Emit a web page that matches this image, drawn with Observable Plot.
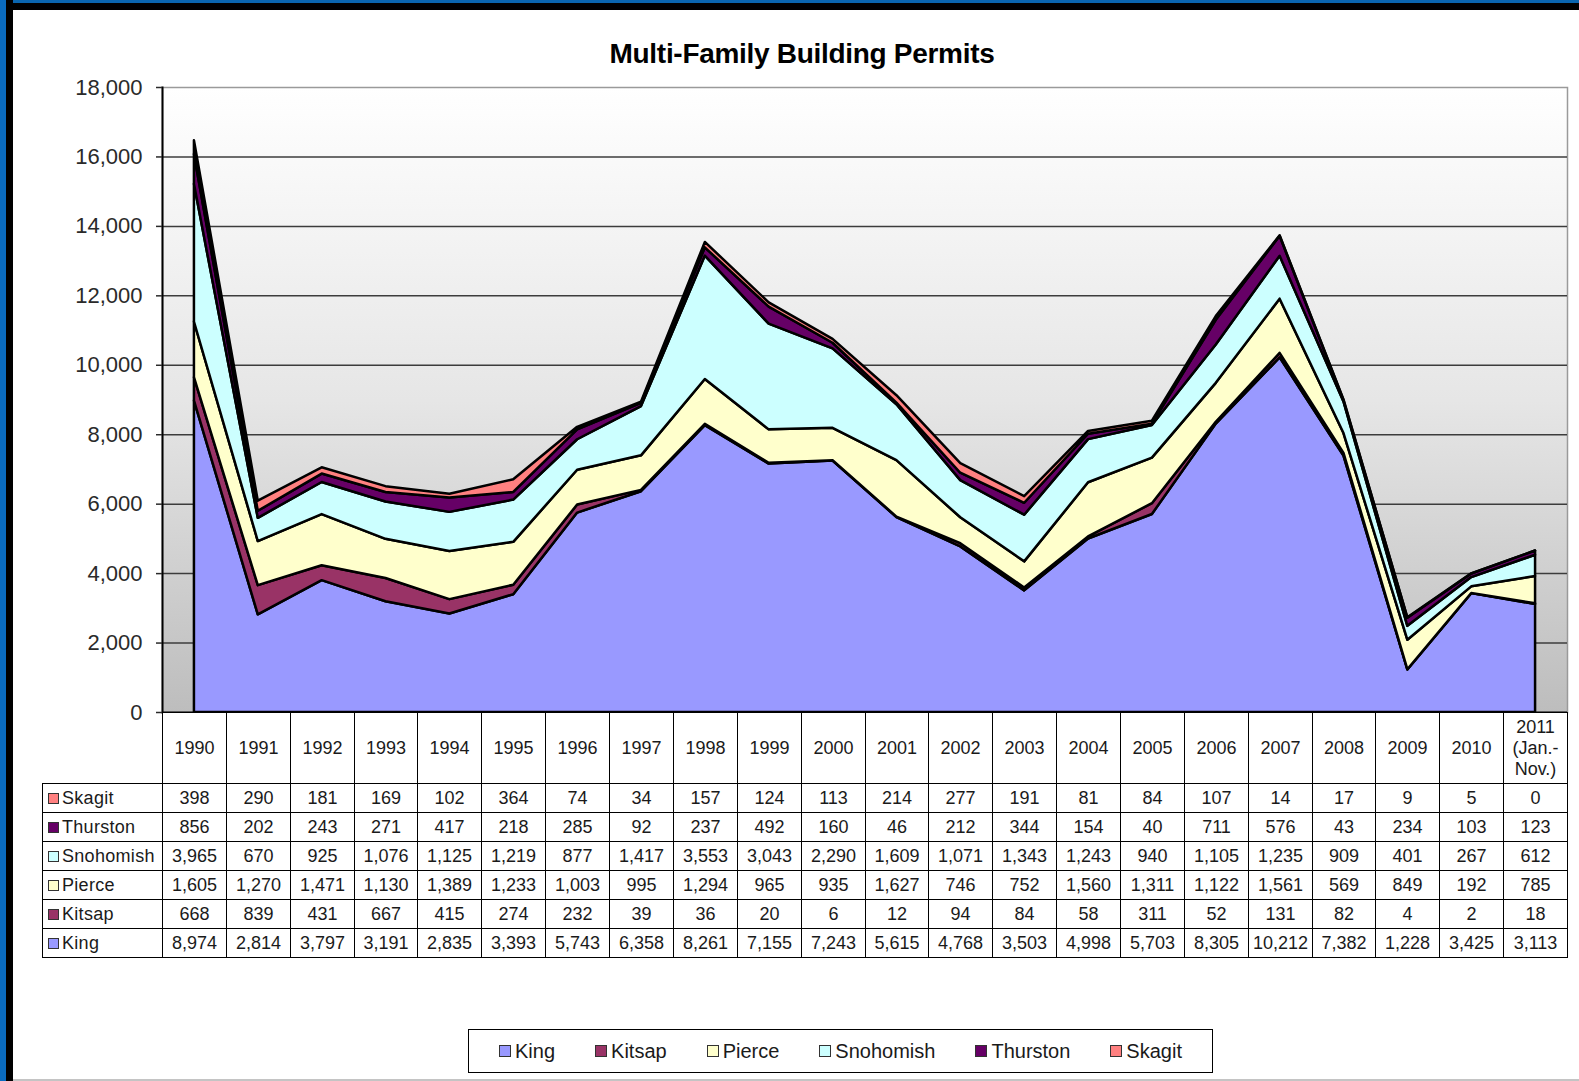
<!DOCTYPE html>
<html><head><meta charset="utf-8">
<script src="https://cdn.jsdelivr.net/npm/d3@7"></script>
<script src="https://cdn.jsdelivr.net/npm/@observablehq/plot@0.6"></script>
<style>
html,body{margin:0;padding:0;background:#fff;overflow:hidden;}
#page{position:relative;width:1579px;height:1081px;background:#fff;font-family:'Liberation Sans',Arial,sans-serif;color:#111;overflow:hidden;}
.fr{position:absolute;z-index:10;}
.cell{position:absolute;box-sizing:border-box;border:1px solid #000;display:flex;align-items:center;justify-content:center;font-size:18px;white-space:pre-line;text-align:center;line-height:21px;background:#fff;color:#1a1a1a;}
.lab{justify-content:flex-start;padding-left:5px;letter-spacing:0.3px;}
.sw{display:inline-block;width:9px;height:9px;border:1px solid #333;margin-right:3px;}
#title{position:absolute;top:40px;left:0;width:1604px;text-align:center;font-weight:bold;font-size:28px;line-height:28px;letter-spacing:-0.3px;color:#000;}
#legend{position:absolute;left:468px;top:1029px;width:745px;height:44px;box-sizing:border-box;border:1px solid #000;display:flex;justify-content:center;align-items:center;font-size:20px;color:#1a1a1a;}
.li{display:flex;align-items:center;margin:0 20px;}
.li .sw{width:10px;height:10px;margin-right:4px;}
</style></head>
<body><div id="page"></div>
<script>
const years = ["1990","1991","1992","1993","1994","1995","1996","1997","1998","1999","2000","2001","2002","2003","2004","2005","2006","2007","2008","2009","2010","2011 (Jan.-Nov.)"];
const yearLabels = ["1990","1991","1992","1993","1994","1995","1996","1997","1998","1999","2000","2001","2002","2003","2004","2005","2006","2007","2008","2009","2010","2011\n(Jan.-\nNov.)"];
const counties = ["King","Kitsap","Pierce","Snohomish","Thurston","Skagit"];
const countyColors = ["#9999ff","#993366","#ffffcc","#ccffff","#660066","#ff8080"];
const king      = [8974,2814,3797,3191,2835,3393,5743,6358,8261,7155,7243,5615,4768,3503,4998,5703,8305,10212,7382,1228,3425,3113];
const kitsap    = [668,839,431,667,415,274,232,39,36,20,6,12,94,84,58,311,52,131,82,4,2,18];
const pierce    = [1605,1270,1471,1130,1389,1233,1003,995,1294,965,935,1627,746,752,1560,1311,1122,1561,569,849,192,785];
const snohomish = [3965,670,925,1076,1125,1219,877,1417,3553,3043,2290,1609,1071,1343,1243,940,1105,1235,909,401,267,612];
const thurston  = [856,202,243,271,417,218,285,92,237,492,160,46,212,344,154,40,711,576,43,234,103,123];
const skagit    = [398,290,181,169,102,364,74,34,157,124,113,214,277,191,81,84,107,14,17,9,5,0];
const yTicks = [0,2000,4000,6000,8000,10000,12000,14000,16000,18000];
const tableRows = ["Skagit","Thurston","Snohomish","Pierce","Kitsap","King"];

const series = {King: king, Kitsap: kitsap, Pierce: pierce, Snohomish: snohomish, Thurston: thurston, Skagit: skagit};
const colorOf = Object.fromEntries(counties.map((c, i) => [c, countyColors[i]]));
const long = counties.flatMap(c => years.map((y, i) => ({county: c, year: y, value: series[c][i]})));
const fmt = d3.format(",");

const page = document.getElementById("page");

const gradDefs = () => {
  const defs = document.createElementNS("http://www.w3.org/2000/svg", "defs");
  defs.innerHTML = '<linearGradient id="bgGrad" x1="0" y1="0" x2="0" y2="1"><stop offset="0" stop-color="#ffffff"/><stop offset="0.5" stop-color="#e6e6e6"/><stop offset="1" stop-color="#bdbdbd"/></linearGradient>';
  return defs;
};

const chart = Plot.plot({
  width: 1579, height: 716,
  marginLeft: 162, marginRight: 12, marginTop: 87, marginBottom: 4,
  style: {background: "transparent", fontFamily: "'Liberation Sans', Arial, sans-serif", overflow: "visible"},
  x: {type: "point", domain: years, padding: 0.5, round: false, axis: null},
  y: {domain: [0, 18000]},
  color: {domain: counties, range: countyColors},
  marks: [
    gradDefs,
    Plot.frame({fill: "url(#bgGrad)", stroke: "#9a9a9a", strokeWidth: 1.5}),
    Plot.ruleY(yTicks.filter(d => d > 0 && d < 18000), {stroke: "#3c3c3c", strokeWidth: 1.5}),
    Plot.areaY(long, {x: "year", y: "value", fill: "county", z: "county", order: counties, stroke: "#000", strokeWidth: 2.5, strokeLinejoin: "round"}),
    Plot.ruleY([0], {stroke: "#000", strokeWidth: 2}),
    Plot.frame({anchor: "left", stroke: "#000", strokeWidth: 2}),
    Plot.axisY({ticks: yTicks, tickSize: 6, tickPadding: 14, tickFormat: fmt, fontSize: 22, color: "#2a2a2a", strokeWidth: 1.5, label: null})
  ]
});
chart.style.position = "absolute";
chart.style.left = "0px";
chart.style.top = "0px";
chart.style.maxWidth = "none";
page.appendChild(chart);

// table aligned with the chart's x scale
const xd = chart.scale("x");
const xs = d3.scalePoint().domain(xd.domain).range(xd.range).padding(xd.padding);
const step = xs.step();
const yTop = 712, headH = 71, rowH = 29, labLeft = 42;
const colLeft = years.map(y => xs(y) - step / 2);
const plotLeft = colLeft[0];

function addCell(left, top, w, h, html, cls) {
  const d = document.createElement("div");
  d.className = "cell" + (cls ? " " + cls : "");
  d.style.left = Math.round(left) + "px";
  d.style.top = Math.round(top) + "px";
  d.style.width = (Math.round(left + w) - Math.round(left) + 1) + "px";
  d.style.height = (Math.round(top + h) - Math.round(top) + 1) + "px";
  d.innerHTML = html;
  page.appendChild(d);
}
years.forEach((y, i) => addCell(colLeft[i], yTop, step, headH, yearLabels[i]));
tableRows.forEach((c, r) => {
  const top = yTop + headH + r * rowH;
  addCell(labLeft, top, plotLeft - labLeft, rowH, `<span class="sw" style="background:${colorOf[c]}"></span>${c}`, "lab");
  years.forEach((y, i) => addCell(colLeft[i], top, step, rowH, fmt(series[c][i])));
});

// title
const t = document.createElement("div");
t.id = "title";
t.textContent = "Multi-Family Building Permits";
page.appendChild(t);

// legend
const lg = document.createElement("div");
lg.id = "legend";
lg.innerHTML = counties.map(c => `<div class="li"><span class="sw" style="background:${colorOf[c]}"></span>${c}</div>`).join("");
page.appendChild(lg);

// outer frame
const frames = [
  {left: 0, top: 0, width: 1579, height: 10, bg: "#000"},
  {left: 0, top: 0, width: 1579, height: 3, bg: "#0a66b0"},
  {left: 0, top: 0, width: 13, height: 1081, bg: "#000"},
  {left: 0, top: 0, width: 6, height: 1081, bg: "#0a6cc0"},
  {left: 13, top: 1079, width: 1566, height: 2, bg: "#c4c4c4"}
];
frames.forEach(f => {
  const d = document.createElement("div");
  d.className = "fr";
  Object.assign(d.style, {left: f.left + "px", top: f.top + "px", width: f.width + "px", height: f.height + "px", background: f.bg});
  page.appendChild(d);
});
</script>
</body></html>
